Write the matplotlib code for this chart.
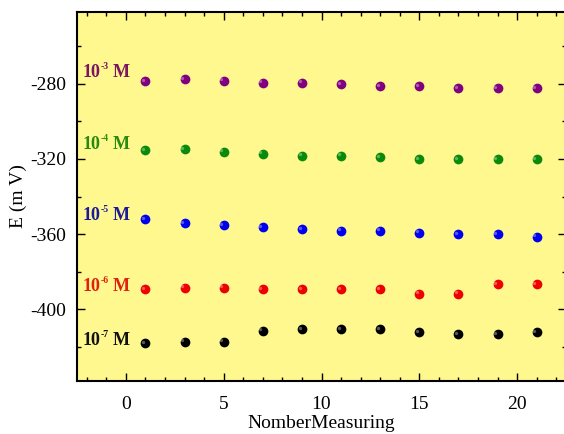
import matplotlib
matplotlib.use('Agg')
import matplotlib.pyplot as plt
from matplotlib.ticker import MultipleLocator
from matplotlib.transforms import offset_copy

plt.rcParams['font.family'] = 'Liberation Serif'
plt.rcParams['axes.unicode_minus'] = False

measure = [1, 3, 5, 7, 9, 11, 13, 15, 17, 19, 21]
conc_labels = ['-3', '-4', '-5', '-6', '-7']
e_1e3 = [-278.8, -277.5, -278.4, -279.6, -279.6, -280.5, -281.4, -281.4, -282.6, -282.6, -282.6]
e_1e4 = [-315.3, -314.9, -316.2, -317.2, -318.3, -318.3, -319.1, -320.2, -320.2, -320.2, -320.2]
e_1e5 = [-352.1, -354.2, -355.3, -356.3, -357.2, -358.1, -358.1, -359.2, -360.0, -360.0, -361.3]
e_1e6 = [-389.3, -388.4, -388.4, -389.3, -389.3, -389.3, -389.3, -391.6, -391.6, -386.5, -386.5]
e_1e7 = [-417.9, -417.1, -417.1, -411.3, -410.4, -410.4, -410.4, -412.1, -413.0, -413.0, -412.1]
series = [e_1e3, e_1e4, e_1e5, e_1e6, e_1e7]

dot_colors = ['#800080', '#0a8a0a', '#0000ee', '#ee0000', '#000000']
text_colors = ['#7a1560', '#2a8a10', '#1a1a9a', '#dd2211', '#111111']
label_y = [-274.0, -312.5, -350.2, -388.0, -416.3]

fig = plt.figure(figsize=(5.64, 4.34), dpi=100)
ax = fig.add_axes([77/564, 53/434, 489/564, 369/434])
ax.set_facecolor('#fff88e')

for vals, c in zip(series, dot_colors):
    ax.plot(measure, vals, 'o', color=c, markersize=7, markeredgewidth=0)
    # small highlight to look like the shaded balls
    ax.plot([m - 0.12 for m in measure], [v + 0.7 for v in vals], 'o',
            color='white', alpha=0.35, markersize=2.4, markeredgewidth=0)

# labels like "10^-3 M" built from three pieces (small superscript)
for lab, y, c in zip(conc_labels, label_y, text_colors):
    ax.text(-2.2, y, '10', color=c, fontsize=13, fontweight='bold', va='center', ha='left')
    t_sup = offset_copy(ax.transData, fig=fig, x=17.5, y=6, units='dots')
    ax.text(-2.2, y, lab, color=c, fontsize=7, fontweight='bold', va='center', ha='left',
            transform=t_sup)
    t_m = offset_copy(ax.transData, fig=fig, x=30, y=0, units='dots')
    ax.text(-2.2, y, 'M', color=c, fontsize=13, fontweight='bold', va='center', ha='left',
            transform=t_m)

ax.set_xlim(-2.5, 22.5)
ax.set_ylim(-438, -242)
ax.xaxis.set_major_locator(MultipleLocator(5))
ax.xaxis.set_minor_locator(MultipleLocator(1))
ax.yaxis.set_minor_locator(MultipleLocator(20))
ax.set_yticks([-280, -320, -360, -400])
ax.tick_params(which='both', direction='in', top=True, right=True, labelsize=14, width=1)
ax.tick_params(which='major', length=6)
ax.tick_params(which='minor', length=3)
ax.tick_params(axis='y', pad=8)
ax.tick_params(axis='x', pad=11)
for s in ax.spines.values():
    s.set_linewidth(1.5)

ax.set_xlabel('NomberMeasuring', fontsize=14, labelpad=1)
ax.set_ylabel('E (m V)', fontsize=14, labelpad=2)

plt.savefig('out.png', dpi=100)
